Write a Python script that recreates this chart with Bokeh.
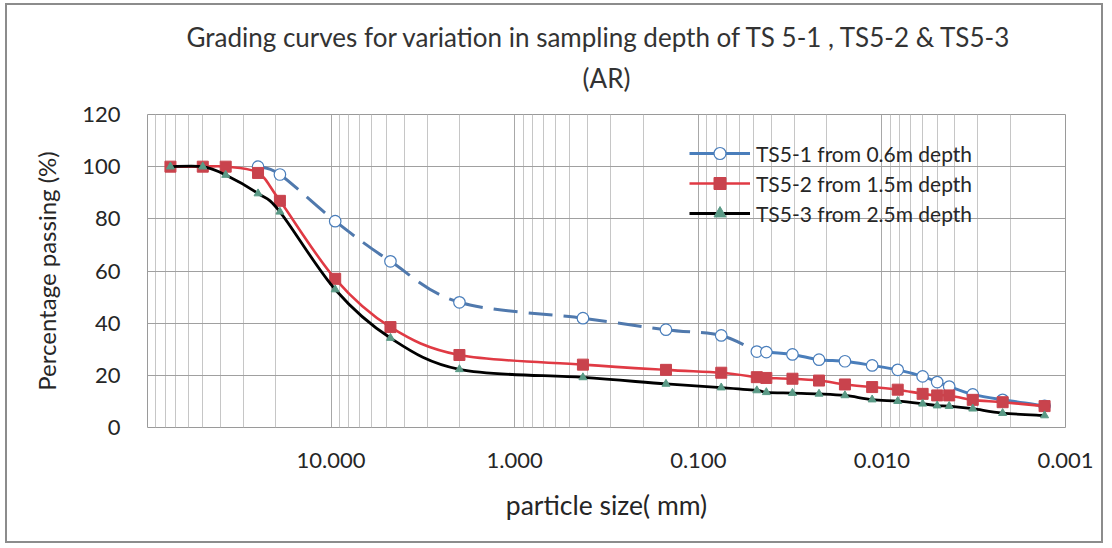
import math
from bokeh.plotting import figure
from bokeh.models import (Range1d, FixedTicker, Title, Legend, LegendItem,
                          NumeralTickFormatter, ColumnDataSource)
from bokeh.embed import file_html
from bokeh.resources import INLINE

# ---------------- data ----------------
sizes_mm = [75, 50, 37.5, 25, 19, 9.5, 4.75, 2.0, 0.425, 0.15, 0.075, 0.048,
            0.0426, 0.0307, 0.022, 0.0159, 0.0113, 0.0082, 0.0060, 0.0050,
            0.0043, 0.0032, 0.0022, 0.0013]

ts5_1_sizes = [25, 19, 9.5, 4.75, 2.0, 0.425, 0.15, 0.075, 0.048,
               0.0426, 0.0307, 0.022, 0.0159, 0.0113, 0.0082, 0.0060, 0.0050,
               0.0043, 0.0032, 0.0022, 0.0013]
ts5_1 = [100, 97.0, 79.1, 63.7, 48.0, 41.9, 37.5, 35.3, 29.1,
         28.9, 28.0, 26.0, 25.4, 23.8, 22.1, 19.6, 17.4,
         15.7, 12.7, 10.6, 8.3]
ts5_1_dashed_until = 0.048   # dashed line for sizes >= this value

ts5_2 = [100, 100, 100, 97.6, 86.9, 57.0, 38.5, 27.8, 24.1, 22.1, 21.0, 19.3,
         19.0, 18.7, 18.0, 16.5, 15.5, 14.5, 12.9, 12.3,
         12.3, 10.6, 9.7, 8.2]

ts5_3 = [100, 100, 96.8, 89.7, 82.7, 52.9, 34.3, 22.3, 19.2, 16.7, 15.3, 14.2,
         13.5, 13.2, 12.9, 12.3, 10.7, 10.1, 9.1, 8.4,
         8.2, 7.2, 5.5, 4.6]

names = ["TS5-1 from 0.6m depth", "TS5-2 from 1.5m depth", "TS5-3 from 2.5m depth"]
x_ticks = [10, 1, 0.1, 0.01, 0.001]
y_ticks = [0, 20, 40, 60, 80, 100, 120]

title_1 = "Grading curves for variation  in sampling depth  of TS 5-1 , TS5-2 & TS5-3"
title_2 = "(AR)"
x_title = "particle size( mm)"
y_title = "Percentage passing (%)"

FONT = "Lato"
TXT = "#262626"
NAN = float("nan")


def smooth(xs, ys):
    """Excel-like smoothed line: cubic Bezier segments (Catmull-Rom, 1/6)."""
    lx = [math.log10(v) for v in xs]
    n = len(xs)
    out = dict(x0=[], y0=[], x1=[], y1=[], cx0=[], cy0=[], cx1=[], cy1=[], xs0=[])
    for i in range(n - 1):
        a = i - 1 if i > 0 else i
        d = i + 2 if i + 2 < n else i + 1
        c0x = lx[i] + (lx[i + 1] - lx[a]) / 6.0
        c0y = ys[i] + (ys[i + 1] - ys[a]) / 6.0
        c1x = lx[i + 1] - (lx[d] - lx[i]) / 6.0
        c1y = ys[i + 1] - (ys[d] - ys[i]) / 6.0
        out["x0"].append(xs[i]); out["y0"].append(ys[i])
        out["x1"].append(xs[i + 1]); out["y1"].append(ys[i + 1])
        out["cx0"].append(10 ** c0x); out["cy0"].append(c0y)
        out["cx1"].append(10 ** c1x); out["cy1"].append(c1y)
        out["xs0"].append(xs[i])
    return out


def subset(seg, keep):
    return {k: [v for v, f in zip(vals, keep) if f] for k, vals in seg.items()}


p = figure(width=1098, height=540, output_backend="svg", toolbar_location=None,
           x_axis_type="log", x_range=Range1d(100, 0.001), y_range=Range1d(0, 120),
           min_border_left=140, min_border_right=40, min_border_top=109,
           min_border_bottom=118, background_fill_color="white",
           border_fill_color="white", outline_line_color="#9a9a9a")
p.title = None
p.margin = (3, 0, 0, 5)
p.styles = {"border": "2px solid #8c8c8c"}

# titles (stacked above the frame: first added is nearest)
t_ar = Title(text=title_2, align="center", vertical_align="top", standoff=38,
             text_font=FONT, text_font_size="26px", text_font_style="normal",
             text_color="#333333")
t_main = Title(text=title_1, align="center", vertical_align="top", standoff=0,
               text_font=FONT, text_font_size="26px", text_font_style="normal",
               text_color="#333333")
try:
    t_main.standoff = -24
except Exception:
    t_main.standoff = 0
p.add_layout(t_ar, "above")
p.add_layout(t_main, "above")

# y axis title, placed beside the tick labels
t_y = Title(text=y_title, align="center", vertical_align="top", standoff=34,
            offset=-55, text_font=FONT, text_font_size="24px",
            text_font_style="normal", text_color=TXT)
p.add_layout(t_y, "left")

# grid
p.xaxis.ticker = FixedTicker(ticks=x_ticks,
                             minor_ticks=[m * 10 ** k for k in range(-3, 2) for m in range(2, 10)])
p.yaxis.ticker = FixedTicker(ticks=y_ticks)
p.xgrid.grid_line_color = "#a8a8a8"
p.xgrid.minor_grid_line_color = "#c6c6c6"
p.ygrid.grid_line_color = "#a0a0a0"
p.xaxis.formatter = NumeralTickFormatter(format="0.000")

for ax in (p.xaxis[0], p.yaxis[0]):
    ax.axis_line_color = None
    ax.major_tick_line_color = None
    ax.minor_tick_line_color = None
    ax.major_label_text_font = FONT
    ax.major_label_text_font_size = "22px"
    ax.major_label_text_color = TXT
    ax.axis_label_text_font = FONT
    ax.axis_label_text_font_style = "normal"
    ax.axis_label_text_color = TXT
p.xaxis.major_label_standoff = 19
p.yaxis.major_label_standoff = 21

p.xaxis.axis_label = x_title
p.xaxis.axis_label_text_font_size = "26.5px"
p.xaxis.axis_label_standoff = 18

# ---------------- series ----------------
BLUE, RED, BLACK, TRI = "#4a7ebb", "#e03a44", "#000000", "#5a9a86"

seg1 = smooth(ts5_1_sizes, ts5_1)
dashed = [x >= ts5_1_dashed_until for x in seg1["xs0"]]
seg1.pop("xs0")
s1d = subset(seg1, dashed)
s1s = subset(seg1, [not f for f in dashed])
p.bezier(source=ColumnDataSource(s1d), x0="x0", y0="y0", x1="x1", y1="y1",
         cx0="cx0", cy0="cy0", cx1="cx1", cy1="cy1",
         line_color="#5079ad", line_width=3, line_dash="24 11")
p.bezier(source=ColumnDataSource(s1s), x0="x0", y0="y0", x1="x1", y1="y1",
         cx0="cx0", cy0="cy0", cx1="cx1", cy1="cy1",
         line_color=BLUE, line_width=3)
m1 = p.scatter(ts5_1_sizes, ts5_1, marker="circle", size=11.5, fill_color="white",
               line_color=BLUE, line_width=1.2)

seg2 = smooth(sizes_mm, ts5_2); seg2.pop("xs0")
p.bezier(source=ColumnDataSource(seg2), x0="x0", y0="y0", x1="x1", y1="y1",
         cx0="cx0", cy0="cy0", cx1="cx1", cy1="cy1", line_color=RED, line_width=2.6)
m2 = p.scatter(sizes_mm, ts5_2, marker="square", size=11, fill_color="#c9434d",
               line_color="#c9434d")

seg3 = smooth(sizes_mm, ts5_3); seg3.pop("xs0")
p.bezier(source=ColumnDataSource(seg3), x0="x0", y0="y0", x1="x1", y1="y1",
         cx0="cx0", cy0="cy0", cx1="cx1", cy1="cy1", line_color=BLACK, line_width=2.8)
m3 = p.scatter(sizes_mm, ts5_3, marker="triangle", size=8, fill_color=TRI,
               line_color=TRI)

# legend samples (lines with no visible points, used only for the key)
l1 = p.line([NAN], [NAN], line_color=BLUE, line_width=3)
l2 = p.line([NAN], [NAN], line_color=RED, line_width=2.6)
l3 = p.line([NAN], [NAN], line_color=BLACK, line_width=2.8)
legend = Legend(items=[LegendItem(label=names[0], renderers=[l1, m1]),
                       LegendItem(label=names[1], renderers=[l2, m2]),
                       LegendItem(label=names[2], renderers=[l3, m3])],
                location=(542, 199), glyph_width=61, glyph_height=30,
                label_height=30, spacing=0, padding=0, margin=0,
                label_standoff=6, border_line_color=None,
                background_fill_alpha=0, label_text_font=FONT,
                label_text_font_size="21px", label_text_color=TXT)
p.add_layout(legend)

open("out.html", "w").write(file_html(p, INLINE))
